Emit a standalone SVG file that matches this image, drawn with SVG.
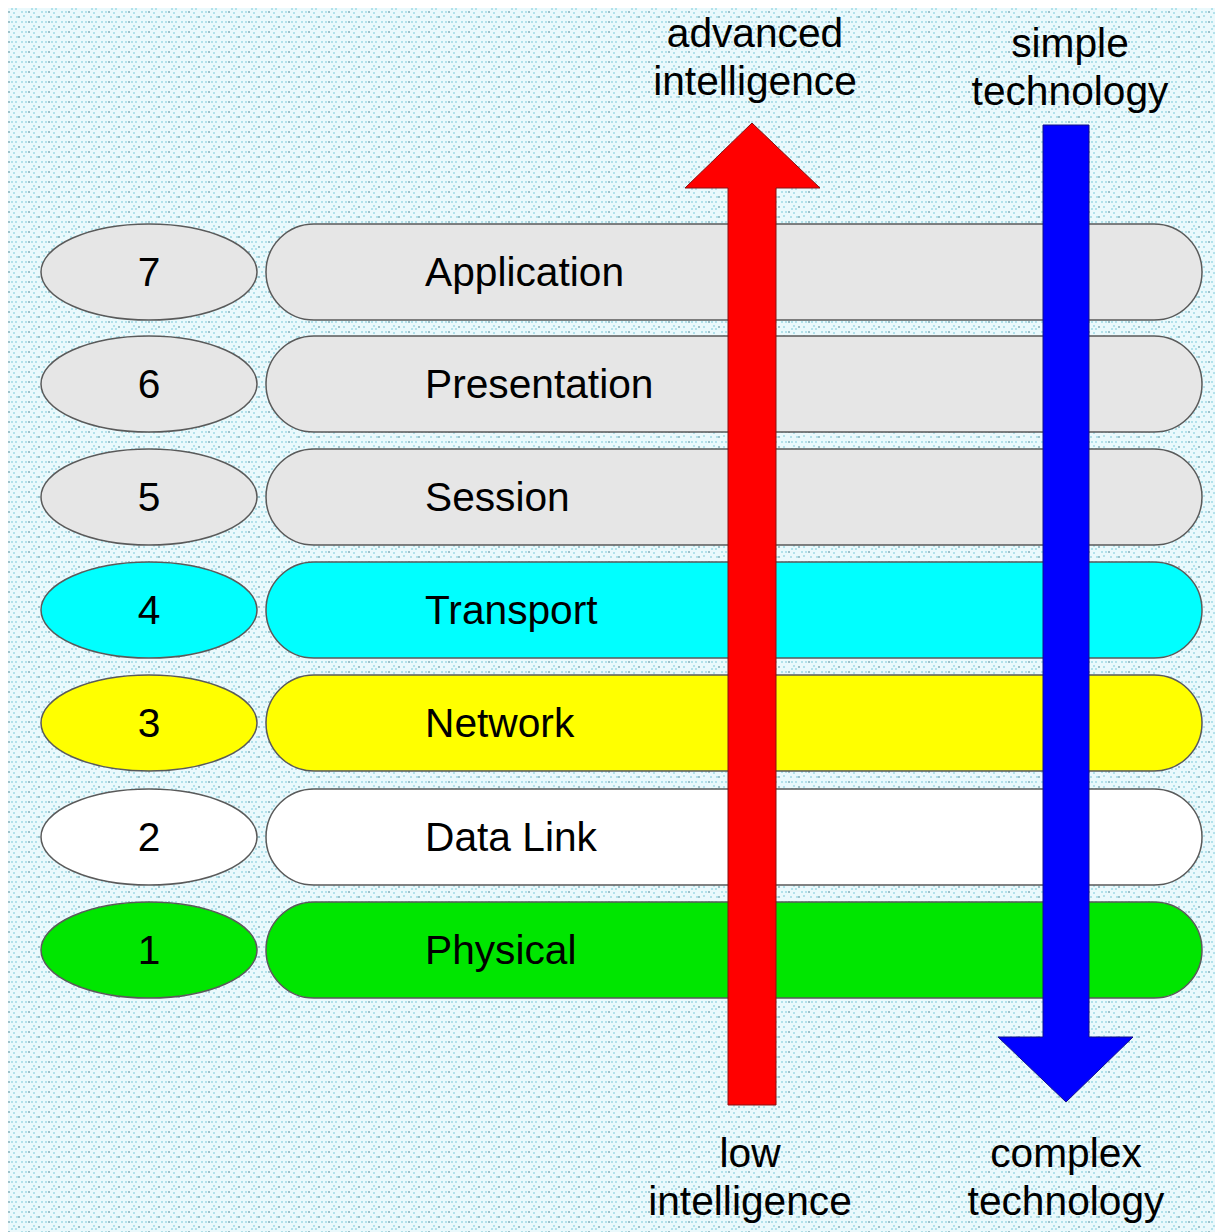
<svg xmlns="http://www.w3.org/2000/svg" width="1215" height="1232" viewBox="0 0 1215 1232">
  <style>
    .lbl { font-family: "Liberation Sans", Arial, sans-serif; font-size: 40.7px; fill: #000; }
    .num { text-anchor: middle; }
    .cap { text-anchor: middle; }
    .shape { stroke: #5a5a5a; stroke-width: 1.5; }
    .gray { fill: #e6e6e6; }
    .cyan { fill: #00ffff; }
    .yellow { fill: #ffff00; }
    .white { fill: #ffffff; }
    .green { fill: #00e600; }
  </style>
  <defs>
    <!-- dotted light-cyan backdrop tile -->
    <pattern id="dots" width="20" height="20" patternUnits="userSpaceOnUse">
      <rect width="20" height="20" fill="#eaf9fc"/>
      <g fill="#9fdbe6">
        <circle cx="2" cy="2" r="1"/>
        <circle cx="6" cy="2" r="1"/>
        <circle cx="12" cy="2" r="1"/>
        <circle cx="16" cy="2" r="1"/>
        <circle cx="4" cy="7" r="1"/>
        <circle cx="14" cy="6" r="1"/>
        <circle cx="12" cy="9" r="1"/>
        <circle cx="16" cy="9" r="1"/>
        <circle cx="2" cy="12" r="1"/>
        <circle cx="6" cy="12" r="1"/>
        <circle cx="14" cy="13" r="1"/>
        <circle cx="4" cy="16" r="1"/>
        <circle cx="11" cy="17" r="1"/>
        <circle cx="17" cy="17" r="1"/>
      </g>
      <g fill="#7aa9b4">
        <circle cx="9" cy="2" r="0.9"/>
        <circle cx="9" cy="12" r="0.9"/>
        <circle cx="19" cy="7" r="0.9"/>
        <circle cx="19" cy="17" r="0.9"/>
      </g>
    </pattern>
  </defs>

  <rect width="1215" height="1232" fill="#ffffff"/>
  <rect x="8" y="8" width="1207" height="1224" fill="url(#dots)"/>

  <!-- layer 7 -->
  <g id="layer7">
    <ellipse class="shape gray" cx="149" cy="272" rx="108" ry="48"/>
    <text class="lbl num" x="149" y="286">7</text>
    <rect class="shape gray" x="266" y="224" width="936" height="96" rx="48" ry="48"/>
    <text class="lbl" x="425" y="286">Application</text>
  </g>
  <!-- layer 6 -->
  <g id="layer6">
    <ellipse class="shape gray" cx="149" cy="384" rx="108" ry="48"/>
    <text class="lbl num" x="149" y="398">6</text>
    <rect class="shape gray" x="266" y="336" width="936" height="96" rx="48" ry="48"/>
    <text class="lbl" x="425" y="398">Presentation</text>
  </g>
  <!-- layer 5 -->
  <g id="layer5">
    <ellipse class="shape gray" cx="149" cy="497" rx="108" ry="48"/>
    <text class="lbl num" x="149" y="511">5</text>
    <rect class="shape gray" x="266" y="449" width="936" height="96" rx="48" ry="48"/>
    <text class="lbl" x="425" y="511">Session</text>
  </g>
  <!-- layer 4 -->
  <g id="layer4">
    <ellipse class="shape cyan" cx="149" cy="610" rx="108" ry="48"/>
    <text class="lbl num" x="149" y="624">4</text>
    <rect class="shape cyan" x="266" y="562" width="936" height="96" rx="48" ry="48"/>
    <text class="lbl" x="425" y="624">Transport</text>
  </g>
  <!-- layer 3 -->
  <g id="layer3">
    <ellipse class="shape yellow" cx="149" cy="723" rx="108" ry="48"/>
    <text class="lbl num" x="149" y="737">3</text>
    <rect class="shape yellow" x="266" y="675" width="936" height="96" rx="48" ry="48"/>
    <text class="lbl" x="425" y="737">Network</text>
  </g>
  <!-- layer 2 -->
  <g id="layer2">
    <ellipse class="shape white" cx="149" cy="837" rx="108" ry="48"/>
    <text class="lbl num" x="149" y="851">2</text>
    <rect class="shape white" x="266" y="789" width="936" height="96" rx="48" ry="48"/>
    <text class="lbl" x="425" y="851">Data Link</text>
  </g>
  <!-- layer 1 -->
  <g id="layer1">
    <ellipse class="shape green" cx="149" cy="950" rx="108" ry="48"/>
    <text class="lbl num" x="149" y="964">1</text>
    <rect class="shape green" x="266" y="902" width="936" height="96" rx="48" ry="48"/>
    <text class="lbl" x="425" y="964">Physical</text>
  </g>

  <!-- trend arrows -->
  <g id="connectors">
    <polygon points="728,1105 776,1105 776,188 820,188 752,123 685,188 728,188" fill="#ff0000" stroke="#8a1010" stroke-width="1"/>
    <polygon points="1043,125 1089,125 1089,1037 1133,1037 1066,1102 998,1037 1043,1037" fill="#0000ff" stroke="#10108a" stroke-width="1"/>
  </g>

  <g id="captions">
    <text class="lbl cap" x="755" y="47">advanced</text>
    <text class="lbl cap" x="755" y="95">intelligence</text>
    <text class="lbl cap" x="1070" y="57">simple</text>
    <text class="lbl cap" x="1070" y="105">technology</text>
    <text class="lbl cap" x="750" y="1167">low</text>
    <text class="lbl cap" x="750" y="1215">intelligence</text>
    <text class="lbl cap" x="1066" y="1167">complex</text>
    <text class="lbl cap" x="1066" y="1215">technology</text>
  </g>
</svg>
